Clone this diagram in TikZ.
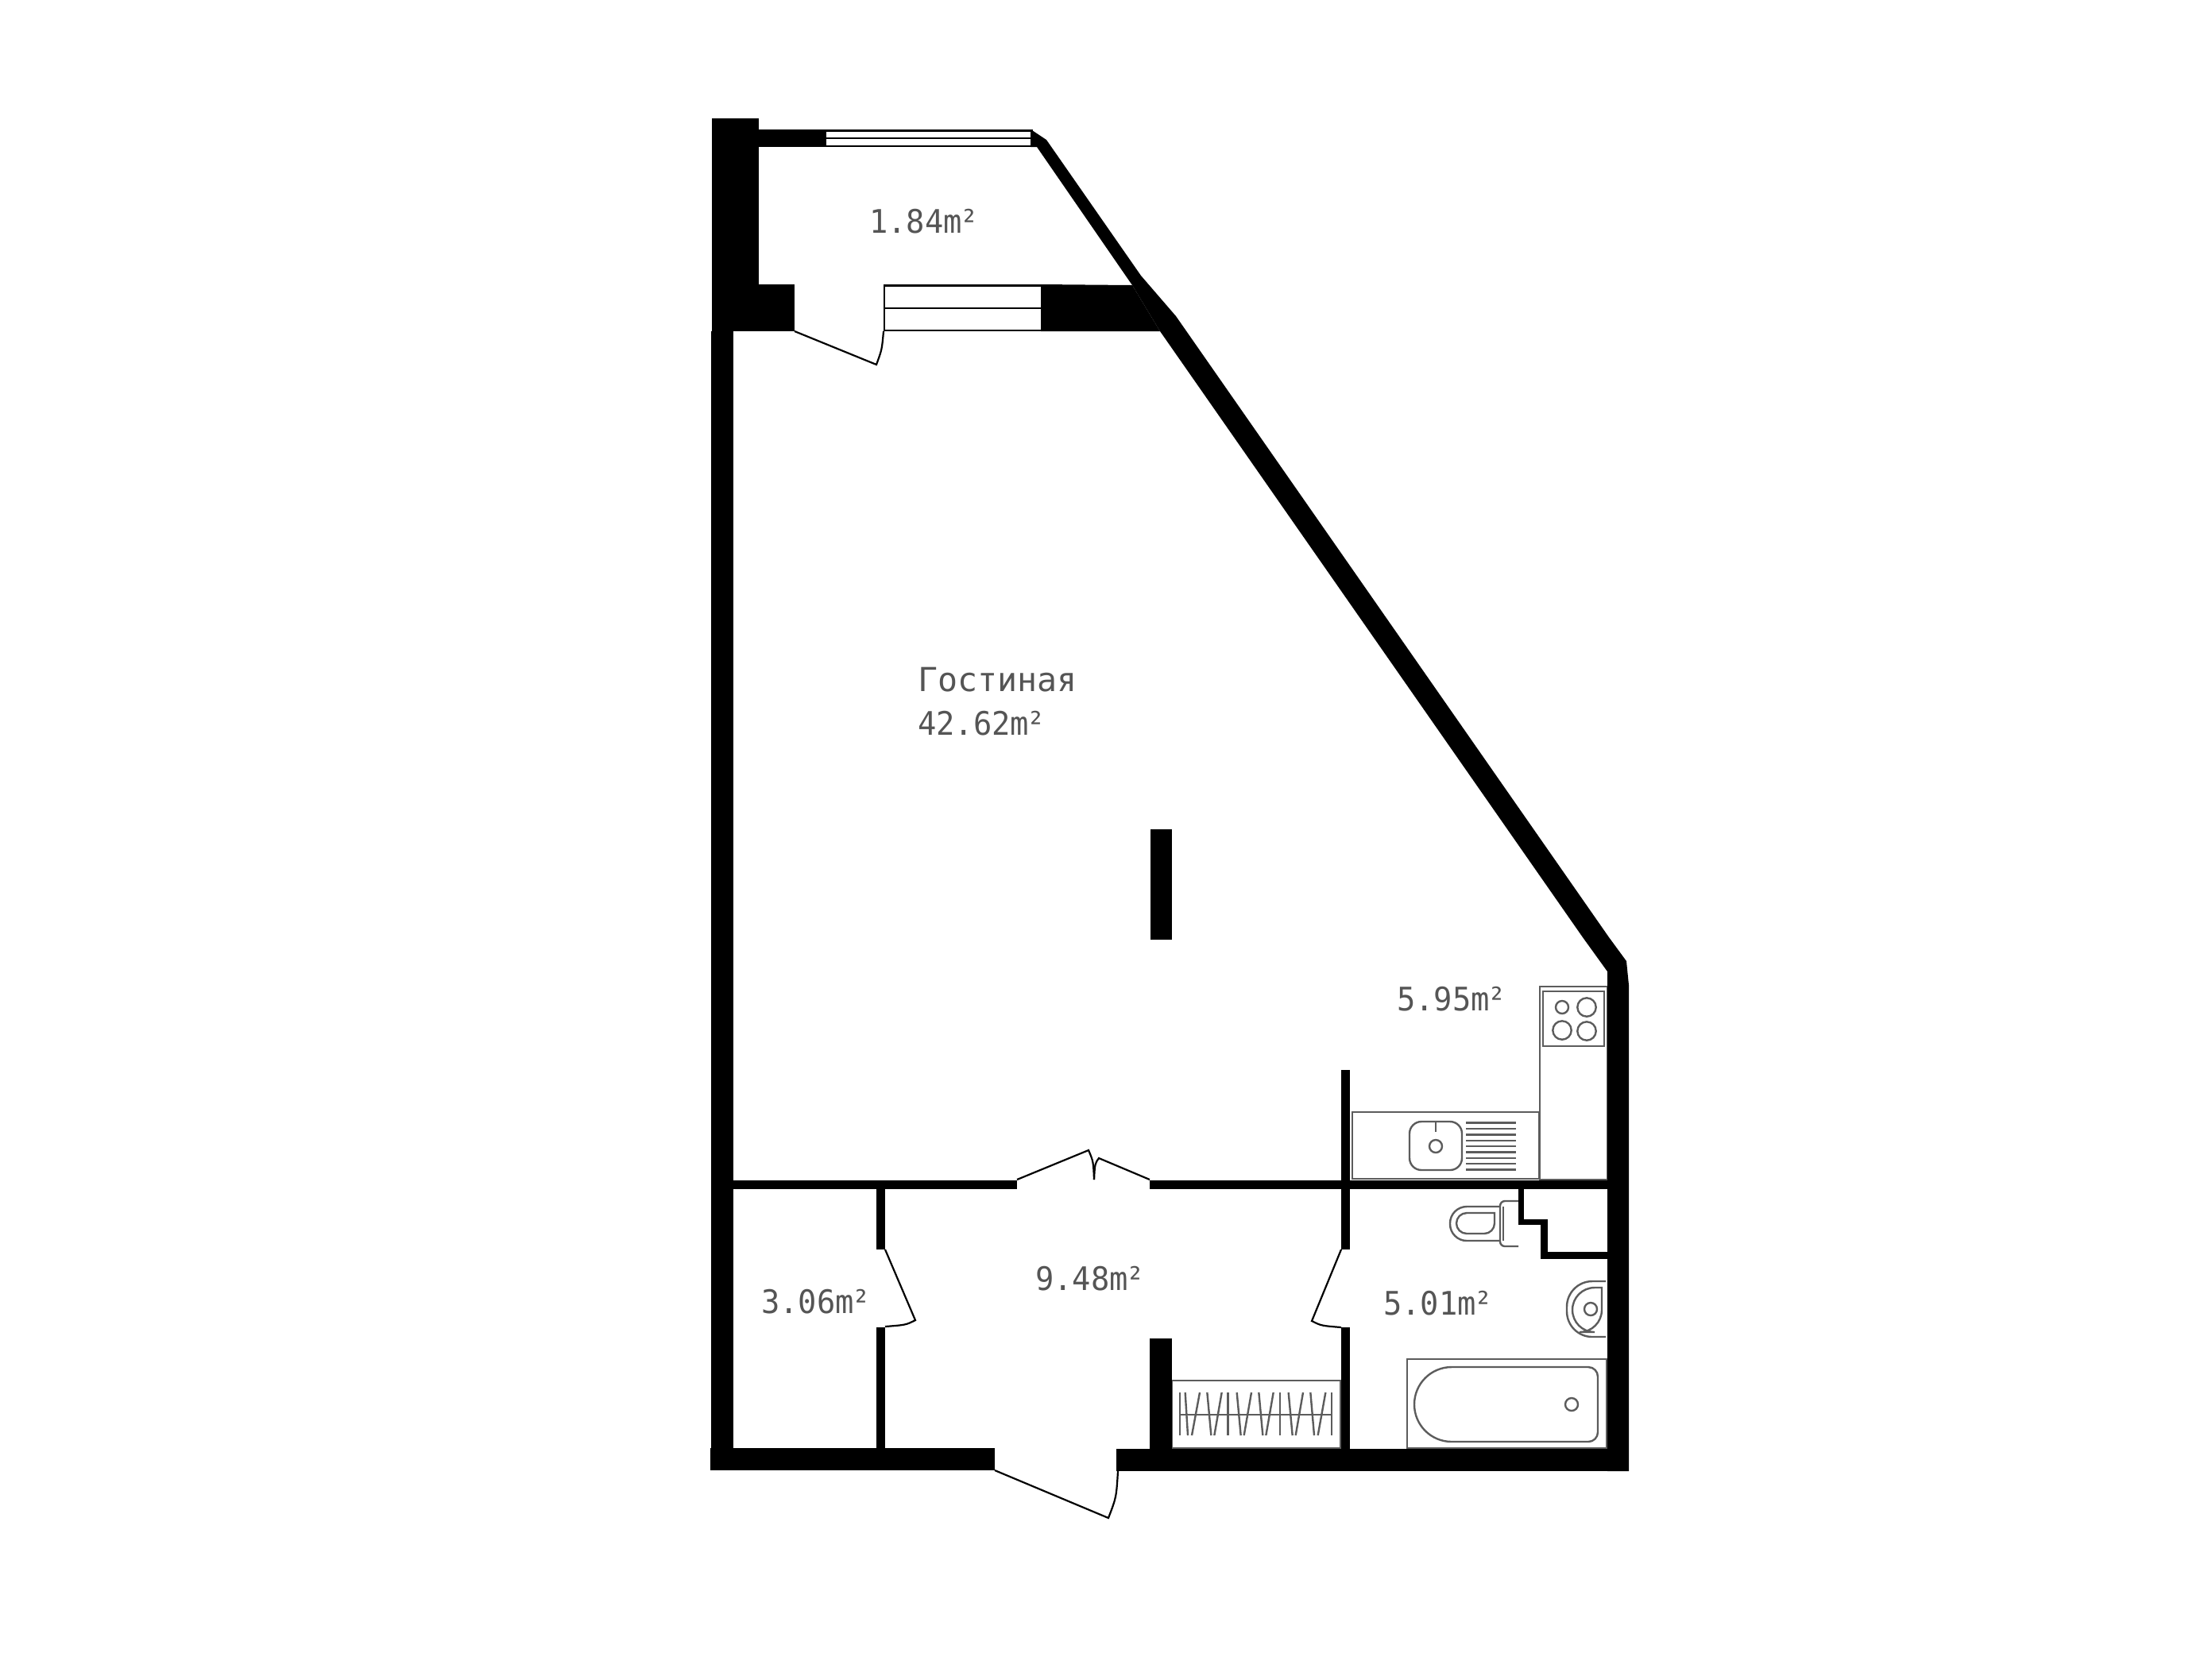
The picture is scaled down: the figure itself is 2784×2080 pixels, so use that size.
\documentclass[tikz,border=0pt]{standalone}
\usepackage{fontspec}
\setmainfont{DejaVu Sans Mono}
\newfontfamily\areafont[FakeStretch=0.95]{DejaVu Sans Mono}
\newcommand{\areaunit}{m\kern-0.6pt²}
\definecolor{labelgrey}{HTML}{555555}
\definecolor{fixgrey}{HTML}{5C5C5C}
\tikzset{
  wall/.style={fill=black,draw=none},
  pane/.style={fill=white,draw=none},
  doorline/.style={draw=black,line width=0.55pt,line join=miter},
  fixture/.style={draw=fixgrey,line width=0.6pt},
  roomlabel/.style={anchor=base west,inner sep=0pt,outer sep=0pt,text=labelgrey,font=\fontsize{10.2}{13.5}\selectfont\areafont},
  roomname/.style={roomlabel,font=\fontsize{10.4}{13.5}\selectfont}
}
\begin{document}
\begin{tikzpicture}[x=0.25pt,y=-0.25pt]
\useasboundingbox (0,0) rectangle (2784,2080);
\fill[white] (0,0) rectangle (2784,2080);
% kitchen
\draw[fixture] (1702,1400) rectangle (1937,1484);
\draw[fixture] (1938,1242) rectangle (2023,1485);
\draw[fixture] (1942,1248) rectangle (2019,1317);
\draw[fixture] (1966,1268) circle (8);
\draw[fixture] (1997,1268) circle (11.7);
\draw[fixture] (1966,1297) circle (11.7);
\draw[fixture] (1997,1298) circle (11.7);
\draw[fixture,rounded corners=3.75pt] (1774,1412) rectangle (1840,1473);
\draw[fixture] (1807,1412) -- (1807,1425);
\draw[fixture] (1807,1443) circle (8);
\foreach \yy in {1413.3,1420.7,1428.3,1435.7,1443,1450.3,1457.7,1465,1472.3}
  \draw[fixture] (1845,\yy) -- (1908,\yy);
% toilet
\draw[fixture] (1911,1512) [rounded corners=1.5pt] -- (1888,1512) -- (1888,1569) [sharp corners] -- (1911,1569);
\draw[fixture] (1892,1519) -- (1892,1562);
\draw[fixture,rounded corners=5.25pt] (1888,1519) -- (1825,1519) -- (1825,1562) -- (1888,1562);
\draw[fixture] (1881,1527) [rounded corners=3.25pt] -- (1833,1527) -- (1833,1553) -- (1881,1553) [sharp corners] -- cycle;
% basin
\draw[fixture,rounded corners=8pt] (2021,1613) -- (1972,1613) -- (1972,1683) -- (2021,1683);
\draw[fixture] (2016,1621) [rounded corners=7pt] -- (1979,1621) -- (1979,1677) -- (2016,1677) [sharp corners] -- cycle;
\draw[fixture] (2002,1648) circle (8);
% bath
\draw[fixture] (1771,1711) rectangle (2022,1823);
\draw[fixture] (1880,1721) [rounded corners=3pt] -- (2011,1721) -- (2011,1815) [rounded corners=11.75pt] -- (1780,1815) -- (1780,1721) -- cycle;
\draw[fixture] (1978,1768) circle (8);
% wardrobe
\draw[fixture] (1475,1738) rectangle (1687,1823);
\draw[fixture] (1485,1781) -- (1675,1781);
\foreach \xa/\xb in {855/855,875/885,930/900,958/973,1013/985,1037/1037,1070/1085,1125/1097,1153/1168,1208/1180,1233/1233,1265/1280,1320/1292,1348/1362,1405/1376,1428/1428}
  \draw[fixture] ({1200+\xa/3},1753) -- ({1200+\xb/3},1807);
% windows
\fill[wall] (954,163) rectangle (1300,185);
\fill[pane] (1040,166) rectangle (1297,183);
\fill[wall] (1040,172.5) rectangle (1297,174.5);
\fill[wall] (1112,358) rectangle (1310,417);
\fill[pane] (1114,361) rectangle (1310,387);
\fill[pane] (1114,389) rectangle (1310,415);
% walls
\fill[wall] (896,149) rectangle (955,358);
\fill[wall] (896,358) rectangle (1000,417);
\fill[wall] (895,417) rectangle (923,1851);
\fill[wall] (894,1823) rectangle (1252,1851);
\fill[wall] (1405,1824) rectangle (2050,1852);
\fill[wall] (1447,1685) rectangle (1475,1852);
\fill[wall] (1448,1044) rectangle (1475,1183);
\fill[wall] (923,1486) rectangle (1280,1497);
\fill[wall] (1447,1486) rectangle (2023,1497);
\fill[wall] (1688,1347) rectangle (1699,1573);
\fill[wall] (1688,1671) rectangle (1699,1824);
\fill[wall] (1103,1496) rectangle (1114,1573);
\fill[wall] (1103,1671) rectangle (1114,1823);
\fill[wall] (1911,1497) rectangle (1918,1542);
\fill[wall] (1911,1535) rectangle (1948,1542);
\fill[wall] (1939,1535) rectangle (1948,1585);
\fill[wall] (1939,1576) rectangle (2023,1585);
\fill[wall] (1310,358) -- (1425,359) -- (1460,417) -- (1310,417) -- cycle;
\fill[wall] (1299,164) -- (1317,176) -- (1436,347) -- (1480,398) -- (2025,1180) -- (2047,1210) -- (2050,1240) -- (2050,1852) -- (2023,1852) -- (2023,1223) -- (1992,1180) -- (1460,417) -- (1425,359) -- (1305,185) -- (1297,185) -- (1297,164) -- cycle;
% doors
\draw[doorline] (1000,417) -- (1103,459) .. controls (1110,440) .. (1112,417);
\draw[doorline] (1252,1851) -- (1395,1911) .. controls (1405,1885) .. (1407,1852);
\draw[doorline] (1280,1485) -- (1370,1448) .. controls (1376,1462) .. (1377,1485);
\draw[doorline] (1447,1485) -- (1383,1458) .. controls (1378,1465) .. (1377,1485);
\draw[doorline] (1688,1573) -- (1651,1663) .. controls (1663,1669) .. (1688,1671);
\draw[doorline] (1114,1573) -- (1152,1662) .. controls (1140,1668) .. (1114,1670);
% labels
\node[roomlabel] (balcony) at (1094,293) {1.84\areaunit};
\node[roomname] (living) at (1155,870) {Гостиная};
\node[roomlabel] (livingarea) at (1155,925) {42.62\areaunit};
\node[roomlabel] (kitchen) at (1758,1272) {5.95\areaunit};
\node[roomlabel] (bathroom) at (1741,1655) {5.01\areaunit};
\node[roomlabel] (hall) at (1303,1624) {9.48\areaunit};
\node[roomlabel] (closet) at (958,1653) {3.06\areaunit};
\end{tikzpicture}
\end{document}
